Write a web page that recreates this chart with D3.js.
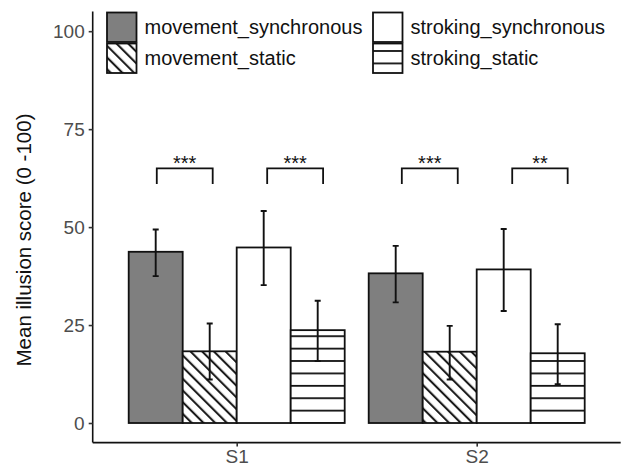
<!DOCTYPE html>
<html>
<head>
<meta charset="utf-8">
<script src="https://cdn.jsdelivr.net/npm/d3@7"></script>
<style>
  html, body { margin: 0; padding: 0; background: #ffffff; }
  svg { display: block; font-family: "Liberation Sans", Arial, sans-serif; }
</style>
</head>
<body>
<svg id="chart" width="624" height="469"></svg>
<script>
// ---- data ----
const categories = ["S1", "S2"];
const conditions = ["movement_synchronous", "movement_static", "stroking_synchronous", "stroking_static"];
const meansS1 = [43.7, 18.3, 44.8, 23.7];
const meansS2 = [38.2, 18.2, 39.2, 17.8];
const lowerS1 = [37.5, 11.1, 35.2, 15.8];
const upperS1 = [49.4, 25.4, 54.1, 31.2];
const lowerS2 = [30.8, 11.1, 28.6, 9.9];
const upperS2 = [45.2, 24.8, 49.5, 25.2];
const yTicks = [0, 25, 50, 75, 100];
const sigXmin = [0.667, 1.127, 1.688, 2.148];
const sigXmax = [0.900, 1.360, 1.921, 2.379];
const sigLabels = ["***", "***", "***", "**"];
const sigY = 65;
const sigTip = 61;
const yTitle = "Mean illusion score (0 -100)";

const means = [meansS1, meansS2];
const lowers = [lowerS1, lowerS2];
const uppers = [upperS1, upperS2];

// ---- layout ----
const svg = d3.select("#chart");
const x = d3.scaleLinear().domain([0.4, 2.6]).range([92.7, 620.7]);
const y = d3.scaleLinear().domain([-5, 105]).range([442.6, 11.6]);
const barW = 0.225;
const capW = 0.0125;

// patterns (global, anchored in user space)
const defs = svg.append("defs");
const y0 = y(0);
const hp = defs.append("pattern").attr("id", "hstripe")
  .attr("patternUnits", "userSpaceOnUse")
  .attr("width", 20).attr("height", 12.4)
  .attr("y", y0 - 0.9);
hp.append("rect").attr("width", 20).attr("height", 12.4).attr("fill", "#fff");
hp.append("line").attr("x1", 0).attr("x2", 20).attr("y1", 0.9).attr("y2", 0.9)
  .attr("stroke", "#111").attr("stroke-width", 1.8);

const dp = defs.append("pattern").attr("id", "dstripe")
  .attr("patternUnits", "userSpaceOnUse")
  .attr("width", 8.27).attr("height", 20)
  .attr("patternTransform", "rotate(-45)");
dp.append("rect").attr("width", 8.27).attr("height", 20).attr("fill", "#fff");
dp.append("line").attr("x1", 2).attr("x2", 2).attr("y1", 0).attr("y2", 20)
  .attr("stroke", "#111").attr("stroke-width", 2);

const fills = ["#7f7f7f", "url(#dstripe)", "#ffffff", "url(#hstripe)"];

// bars
const barData = [];
categories.forEach((c, ci) => {
  conditions.forEach((k, ki) => {
    barData.push({
      cx: (ci + 1) + (ki - 1.5) * barW,
      v: means[ci][ki], lo: lowers[ci][ki], hi: uppers[ci][ki], k: ki
    });
  });
});

svg.append("g").selectAll("rect").data(barData).join("rect")
  .attr("x", d => x(d.cx - barW / 2))
  .attr("width", d => x(d.cx + barW / 2) - x(d.cx - barW / 2))
  .attr("y", d => y(d.v))
  .attr("height", d => y(0) - y(d.v))
  .attr("fill", d => fills[d.k])
  .attr("stroke", "#111").attr("stroke-width", 1.8);

// error bars
const eb = svg.append("g").attr("stroke", "#111").attr("stroke-width", 1.9).attr("fill", "none");
eb.selectAll("path").data(barData).join("path")
  .attr("d", d => {
    const xl = x(d.cx - capW), xr = x(d.cx + capW), xc = x(d.cx);
    return `M${xl},${y(d.hi)}H${xr}M${xc},${y(d.hi)}V${y(d.lo)}M${xl},${y(d.lo)}H${xr}`;
  });

// significance brackets
const sig = svg.append("g");
sig.selectAll("path").data(sigLabels).join("path")
  .attr("d", (d, i) => `M${x(sigXmin[i])},${y(sigTip)}V${y(sigY)}H${x(sigXmax[i])}V${y(sigTip)}`)
  .attr("fill", "none").attr("stroke", "#111").attr("stroke-width", 1.8);
sig.selectAll("text").data(sigLabels).join("text")
  .attr("x", (d, i) => (x(sigXmin[i]) + x(sigXmax[i])) / 2)
  .attr("y", y(sigY) + 1.5)
  .attr("text-anchor", "middle")
  .attr("font-size", 20).attr("fill", "#111")
  .text(d => d);

// axes
const yAxis = d3.axisLeft(y).tickValues(yTicks).tickSize(4).tickPadding(4);
const gy = svg.append("g").attr("transform", `translate(${x(0.4)},0)`).call(yAxis);
gy.select(".domain").attr("stroke", "#111").attr("stroke-width", 1.6)
  .attr("d", `M0,${y(105)}V${y(-5)}`);
gy.selectAll(".tick line").attr("stroke", "#333").attr("stroke-width", 1.6);
gy.selectAll(".tick text").attr("fill", "#4d4d4d").attr("font-size", 19)
  .attr("font-family", "Liberation Sans, Arial, sans-serif");

const xAxis = d3.axisBottom(x).tickValues([1, 2]).tickFormat((d, i) => categories[i]).tickSize(4).tickPadding(3);
const gx = svg.append("g").attr("transform", `translate(0,${y(-5)})`).call(xAxis);
gx.select(".domain").attr("stroke", "#111").attr("stroke-width", 1.6)
  .attr("d", `M${x(0.4)},0H${x(2.6)}`);
gx.selectAll(".tick line").attr("stroke", "#333").attr("stroke-width", 1.6);
gx.selectAll(".tick text").attr("fill", "#4d4d4d").attr("font-size", 19)
  .attr("font-family", "Liberation Sans, Arial, sans-serif");

// y title
svg.append("text")
  .attr("transform", `translate(31,${(113 + 367) / 2}) rotate(-90)`)
  .attr("text-anchor", "middle")
  .attr("font-size", 20.5).attr("fill", "#111")
  .text(yTitle);

// legend
const legX = [107, 373];
const legY = [12.5, 43.5];
const keySize = 29.5;
const leg = svg.append("g");
conditions.forEach((c, i) => {
  const col = Math.floor(i / 2), row = i % 2;
  const lx = legX[col], ly = legY[row];
  leg.append("rect").attr("x", lx).attr("y", ly).attr("width", keySize).attr("height", keySize)
    .attr("fill", fills[i]).attr("stroke", "#111").attr("stroke-width", 1.8);
  leg.append("text").attr("x", lx + keySize + 8).attr("y", ly + keySize / 2)
    .attr("dominant-baseline", "central")
    .attr("font-size", 20).attr("fill", "#111")
    .text(c);
});
</script>
</body>
</html>
